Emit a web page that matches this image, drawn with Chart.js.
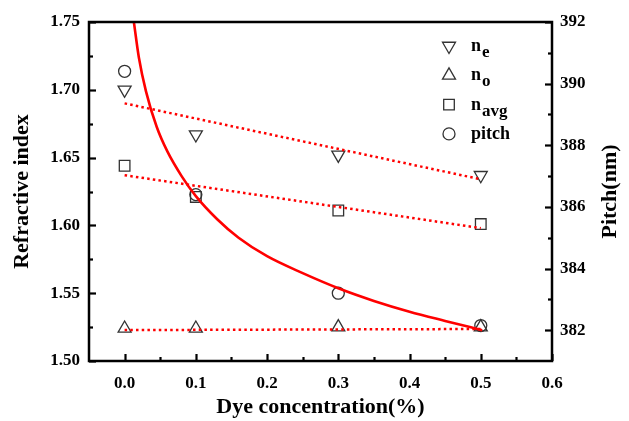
<!DOCTYPE html>
<html>
<head>
<meta charset="utf-8">
<script src="https://cdn.jsdelivr.net/npm/chart.js@4.4.1/dist/chart.umd.min.js"></script>
<style>
  html, body { margin: 0; padding: 0; background: #fff; }
  #wrap { width: 629px; height: 421px; }
</style>
</head>
<body>
<div id="wrap"><canvas id="chart" width="629" height="421"></canvas></div>
<script>
// Measured data
const concentrations = [0.0, 0.1, 0.3, 0.5];
const nE   = [1.700, 1.667, 1.652, 1.637];
const nO   = [1.524, 1.524, 1.525, 1.525];
const nAvg = [1.644, 1.621, 1.611, 1.601];
const pitch = [390.4, 386.4, 383.2, 382.15];

// Linear fits (dotted)
const fitX    = [0.0, 0.5];
const nEFit   = [1.690, 1.634];
const nOFit   = [1.5228, 1.5236];
const nAvgFit = [1.637, 1.598];

// Pitch fit curve (solid)
const pitchFitX = [0.013, 0.020, 0.030, 0.045, 0.060, 0.080, 0.100, 0.130, 0.160, 0.200, 0.250, 0.300, 0.350, 0.400, 0.450, 0.502];
const pitchFitY = [392.0, 390.85, 389.75, 388.6, 387.8, 387.0, 386.35, 385.6, 385.0, 384.4, 383.85, 383.36, 382.95, 382.6, 382.3, 382.0];

// Axes
const xTicks  = [0.0, 0.1, 0.2, 0.3, 0.4, 0.5, 0.6];
const yTicks  = [1.50, 1.55, 1.60, 1.65, 1.70, 1.75];
const y2Ticks = [382, 384, 386, 388, 390, 392];

const legendMain = ['n', 'n', 'n', 'pitch'];
const legendSub  = ['e', 'o', 'avg', ''];

const SERIF = '"Liberation Serif", "Times New Roman", serif';
const RED = '#ff0000';
const MARK = '#333333';

const pts = (xs, ys) => xs.map((x, i) => ({ x, y: ys[i] }));

const markerBase = {
    showLine: false,
    backgroundColor: 'rgba(255,255,255,0)',
    borderColor: MARK,
    pointBorderWidth: 1.3,
    pointHoverRadius: 6,
};

const markers = [
    { label: 'n_e',   data: pts(concentrations, nE),   pointStyle: 'triangle', pointRotation: 180, pointRadius: 7.5, yAxisID: 'y' },
    { label: 'n_o',   data: pts(concentrations, nO),   pointStyle: 'triangle', pointRotation: 0,   pointRadius: 7.5, yAxisID: 'y' },
    { label: 'n_avg', data: pts(concentrations, nAvg), pointStyle: 'rect',     pointRotation: 0,   pointRadius: 7.5, yAxisID: 'y' },
    { label: 'pitch', data: pts(concentrations, pitch), pointStyle: 'circle',  pointRotation: 0,   pointRadius: 6,   yAxisID: 'y2' },
].map(d => Object.assign({}, markerBase, d));

const dotted = {
    showLine: true,
    borderColor: RED,
    borderWidth: 2.5,
    borderDash: [2.5, 3.2],
    pointRadius: 0,
    fill: false,
    yAxisID: 'y',
};

const fits = [
    Object.assign({ label: 'fit_e',   data: pts(fitX, nEFit) },   dotted),
    Object.assign({ label: 'fit_o',   data: pts(fitX, nOFit) },   dotted),
    Object.assign({ label: 'fit_avg', data: pts(fitX, nAvgFit) }, dotted),
    {
        label: 'fit_pitch',
        data: pts(pitchFitX, pitchFitY),
        showLine: true,
        borderColor: RED,
        borderWidth: 2.6,
        pointRadius: 0,
        cubicInterpolationMode: 'monotone',
        fill: false,
        yAxisID: 'y2',
    },
];

// Frame, inward ticks, axis titles and legend
const decor = {
    id: 'decor',
    afterDraw(c) {
        const ctx = c.ctx;
        const a = c.chartArea;
        const sx = c.scales.x, sy = c.scales.y, sy2 = c.scales.y2;
        ctx.save();
        ctx.strokeStyle = '#000';
        ctx.lineWidth = 2.2;

        // x ticks (bottom, inward)
        for (let v = 0; v <= 0.6001; v += 0.05) {
            const px = Math.round(sx.getPixelForValue(v)) + 0.5;
            const major = Math.abs(Math.round(v * 10) - v * 10) < 1e-6;
            ctx.beginPath();
            ctx.moveTo(px, a.bottom);
            ctx.lineTo(px, a.bottom - (major ? 7 : 4));
            ctx.stroke();
        }
        // left ticks
        for (let v = 1.50; v <= 1.7501; v += 0.025) {
            const py = Math.round(sy.getPixelForValue(v)) + 0.5;
            const major = Math.abs(Math.round(v * 20) - v * 20) < 1e-6;
            ctx.beginPath();
            ctx.moveTo(a.left, py);
            ctx.lineTo(a.left + (major ? 7 : 4), py);
            ctx.stroke();
        }
        // right ticks
        for (let v = 382; v <= 392; v += 1) {
            const py = Math.round(sy2.getPixelForValue(v)) + 0.5;
            const major = v % 2 === 0;
            ctx.beginPath();
            ctx.moveTo(a.right, py);
            ctx.lineTo(a.right - (major ? 7 : 4), py);
            ctx.stroke();
        }

        // frame
        ctx.lineWidth = 2.5;
        ctx.strokeRect(a.left, a.top, a.right - a.left, a.bottom - a.top);

        // axis titles
        ctx.fillStyle = '#000';
        ctx.font = 'bold 22px ' + SERIF;
        ctx.textAlign = 'center';
        ctx.textBaseline = 'middle';
        ctx.fillText('Dye concentration(%)', (a.left + a.right) / 2, 407);

        ctx.save();
        ctx.translate(22, (a.top + a.bottom) / 2);
        ctx.rotate(-Math.PI / 2);
        ctx.fillText('Refractive index', 0, 0);
        ctx.restore();

        ctx.save();
        ctx.translate(610, (a.top + a.bottom) / 2);
        ctx.rotate(-Math.PI / 2);
        ctx.fillText('Pitch(nm)', 0, 0);
        ctx.restore();

        // legend
        const lx = 449, tx = 471, top = 46, step = 29.3;
        markers.forEach((d, i) => {
            const y = top + i * step;
            ctx.strokeStyle = MARK;
            ctx.fillStyle = 'rgba(255,255,255,0)';
            ctx.lineWidth = 1.3;
            Chart.helpers.drawPoint(ctx, {
                pointStyle: d.pointStyle,
                rotation: d.pointRotation,
                radius: d.pointRadius,
                borderWidth: 1.3,
            }, lx, y);

            ctx.fillStyle = '#000';
            ctx.textAlign = 'left';
            ctx.textBaseline = 'alphabetic';
            ctx.font = 'bold 18px ' + SERIF;
            ctx.fillText(legendMain[i], tx, y + 5);
            if (legendSub[i]) {
                const w = ctx.measureText(legendMain[i]).width;
                ctx.font = 'bold 17px ' + SERIF;
                ctx.fillText(legendSub[i], tx + w + 1, y + 11);
            }
        });
        ctx.restore();
    },
};

const tickFont = { family: SERIF, size: 17, weight: 'bold' };

new Chart(document.getElementById('chart'), {
    type: 'scatter',
    data: { datasets: [...fits, ...markers] },
    options: {
        responsive: false,
        animation: false,
        layout: { padding: { top: 22, left: 0, right: 0, bottom: 0 } },
        plugins: {
            legend: { display: false },
            tooltip: { enabled: false },
        },
        scales: {
            x: {
                type: 'linear',
                min: -0.05,
                max: 0.6,
                afterBuildTicks: s => { s.ticks = xTicks.map(v => ({ value: v })); },
                afterFit: s => { s.height = 60; },
                grid: { display: false, drawTicks: false },
                border: { display: false },
                ticks: { color: '#000', font: tickFont, padding: 12, callback: v => Number(v).toFixed(1) },
            },
            y: {
                type: 'linear',
                position: 'left',
                min: 1.50,
                max: 1.75,
                afterBuildTicks: s => { s.ticks = yTicks.map(v => ({ value: v })); },
                afterFit: s => { s.width = 89; },
                grid: { display: false, drawTicks: false },
                border: { display: false },
                ticks: { color: '#000', font: tickFont, padding: 9, callback: v => Number(v).toFixed(2) },
            },
            y2: {
                type: 'linear',
                position: 'right',
                min: 381,
                max: 392,
                afterBuildTicks: s => { s.ticks = y2Ticks.map(v => ({ value: v })); },
                afterFit: s => { s.width = 77; },
                grid: { display: false, drawTicks: false },
                border: { display: false },
                ticks: { color: '#000', font: tickFont, padding: 8, callback: v => String(v) },
            },
        },
    },
    plugins: [decor],
});
</script>
</body>
</html>
